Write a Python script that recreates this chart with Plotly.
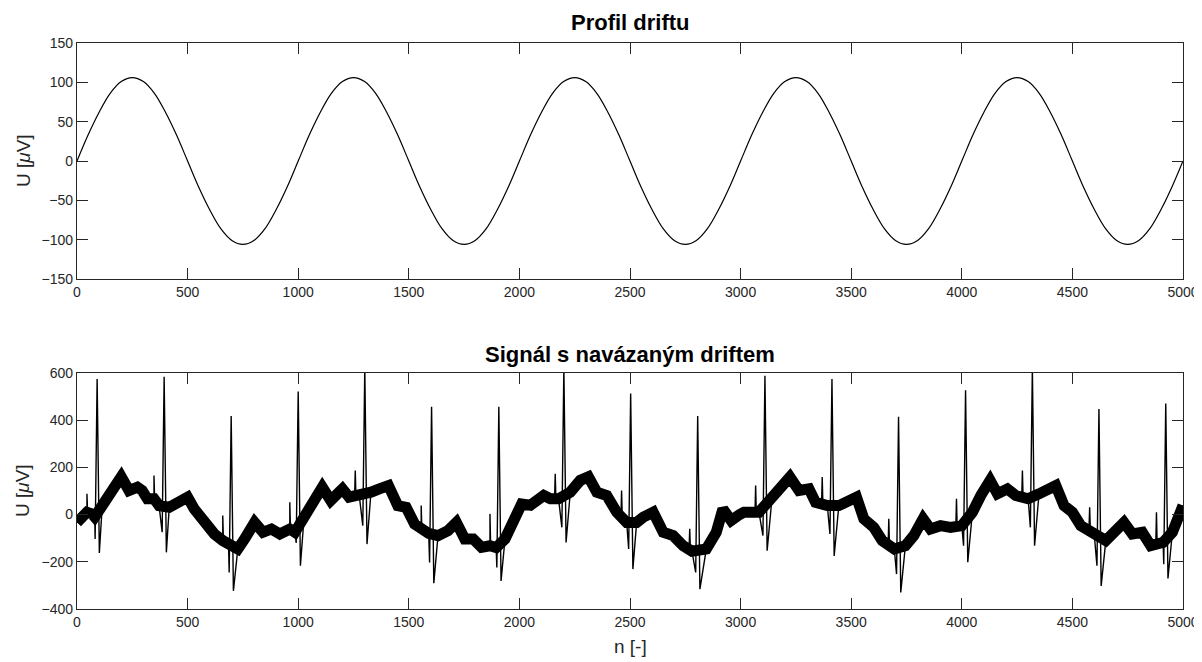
import plotly.graph_objects as go
from plotly.subplots import make_subplots

# ---------------- data ----------------
drift_n = list(range(0, 5001, 50))
drift_u = [0, 33, 62, 86, 101, 106, 101, 86, 62, 33,
           0, -33, -62, -86, -101, -106, -101, -86, -62, -33,
           0, 33, 62, 86, 101, 106, 101, 86, 62, 33,
           0, -33, -62, -86, -101, -106, -101, -86, -62, -33,
           0, 33, 62, 86, 101, 106, 101, 86, 62, 33,
           0, -33, -62, -86, -101, -106, -101, -86, -62, -33,
           0, 33, 62, 86, 101, 106, 101, 86, 62, 33,
           0, -33, -62, -86, -101, -106, -101, -86, -62, -33,
           0, 33, 62, 86, 101, 106, 101, 86, 62, 33,
           0, -33, -62, -86, -101, -106, -101, -86, -62, -33,
           0]

# baseline (wandering, noisy band centre) of the signal
base_n = [0, 23, 45, 68, 80, 114, 152, 200, 235, 273, 295, 318, 348, 371,
          417, 455, 500, 530, 576, 621, 659, 685, 727, 758, 803, 841, 879, 917,
          962, 985, 1026, 1056, 1109, 1147, 1200, 1230, 1276, 1329, 1367, 1408,
          1450, 1488, 1526, 1556, 1590, 1632, 1677, 1715, 1753, 1791, 1829, 1867,
          1895, 1935, 1973, 2010, 2050, 2110, 2140, 2177, 2230, 2275, 2312, 2350,
          2395, 2440, 2485, 2530, 2560, 2605, 2650, 2695, 2740, 2780, 2845, 2890,
          2920, 2957, 2995, 3015, 3083, 3143, 3181, 3223, 3264, 3309, 3339, 3392,
          3444, 3482, 3524, 3557, 3602, 3640, 3695, 3745, 3783, 3825, 3858, 3904,
          3949, 4000, 4048, 4086, 4128, 4161, 4206, 4244, 4300, 4349, 4387, 4425,
          4462, 4500, 4538, 4598, 4651, 4688, 4733, 4771, 4816, 4854, 4910, 4952,
          4982, 5000]
base_u = [-33, -5, 10, 3, -10, 38, 95, 160, 102, 116, 102, 67, 67, 38,
          31, 52, 74, 24, -40, -82, -110, -125, -146, -103, -33, -75, -61, -82,
          -61, -75, -18, 38, 116, 60, 109, 74, 81, 95, 109, 123,
          38, 31, -40, -60, -80, -89, -68, -33, -103, -103, -139, -132,
          -140, -103, -18, 45, 40, 81, 67, 67, 95, 145, 160, 95,
          81, 10, -33, -33, -11, 10, -75, -89, -132, -155, -146, -75,
          24, -25, 0, 10, 10, 81, 123, 159, 102, 109, 52, 38,
          38, 52, 74, -18, -54, -110, -146, -132, -89, -18, -61, -47,
          -54, -47, 10, 81, 145, 88, 109, 81, 67, 88, 102, 123,
          38, 10, -47, -75, -110, -75, -33, -82, -75, -132, -118, -75,
          10, 38]

# QRS complexes: R position, R peak, Q dip, S dip
beat_n = [91, 394, 697, 1000, 1301, 1603, 1907, 2201, 2503, 2806,
          3110, 3413, 3714, 4017, 4319, 4620, 4922]
beat_r = [574, 584, 418, 522, 620, 457, 457, 620, 513, 418,
          588, 574, 414, 527, 620, 447, 471]
beat_q = [-103, -75, -245, -120, -47, -203, -224, -54, -146, -245,
          -89, -82, -252, -132, -54, -217, -210]
beat_s = [-163, -160, -323, -217, -125, -291, -281, -118, -231, -316,
          -153, -175, -330, -202, -132, -302, -271]

# small sharp spikes before each QRS: position, tip, band level there
spike_n = [45, 348, 659, 962, 1258, 1556, 1867, 2162, 2462, 2770,
           3068, 3369, 3670, 3976, 4274, 4578, 4880]
spike_u = [88, 166, -4, 52, 187, 38, 3, 173, 102, -60,
           123, 159, -18, 67, 187, 31, 10]
spike_base = [10, 67, -110, -61, 78, -60, -132, 67, -10, -150,
              10, 45, -130, -50, 75, -60, -125]

x_ticks = list(range(0, 5001, 500))
top_y_ticks = list(range(-150, 151, 50))
bot_y_ticks = list(range(-400, 601, 200))

# ---------------- build the full signal polyline ----------------
pts = list(zip(base_n, base_u))
for n, r, q, s in zip(beat_n, beat_r, beat_q, beat_s):
    pts += [(n - 9, q), (n, r), (n + 10, s)]
for n, u, b in zip(spike_n, spike_u, spike_base):
    pts += [(n - 3, b), (n, u), (n + 3, b)]
pts.sort(key=lambda p: p[0])
sig_n = [p[0] for p in pts]
sig_u = [p[1] for p in pts]

# ---------------- figure ----------------
fig = make_subplots(rows=2, cols=1, vertical_spacing=0.166)

fig.add_trace(go.Scatter(x=drift_n, y=drift_u, mode="lines",
                         line=dict(color="black", width=1.2, shape="spline"),
                         showlegend=False, hoverinfo="skip"), row=1, col=1)

fig.add_trace(go.Scatter(x=base_n, y=base_u, mode="lines",
                         line=dict(color="black", width=11),
                         showlegend=False, hoverinfo="skip"), row=2, col=1)
fig.add_trace(go.Scatter(x=sig_n, y=sig_u, mode="lines",
                         line=dict(color="black", width=1.4),
                         showlegend=False, hoverinfo="skip"), row=2, col=1)

axis_col = "#262626"
font_fam = "Liberation Sans, Arial, sans-serif"
common = dict(showline=True, linecolor=axis_col, linewidth=1.2, mirror="ticks",
              ticks="inside", ticklen=11, tickwidth=1.2, tickcolor=axis_col,
              showgrid=False, zeroline=False, automargin=False,
              tickfont=dict(family=font_fam, size=14, color=axis_col))

fig.update_xaxes(range=[0, 5000], tickvals=x_ticks, **common)
fig.update_yaxes(**common)
fig.update_yaxes(range=[-150, 150], tickvals=top_y_ticks, row=1, col=1)
fig.update_yaxes(range=[-400, 600], tickvals=bot_y_ticks, row=2, col=1)

title_font = dict(family=font_fam, size=22, color="black")
label_font = dict(family=font_fam, size=19, color=axis_col)
fig.update_layout(
    width=1194, height=654,
    margin=dict(l=69, r=19, t=35, b=53),
    paper_bgcolor="white", plot_bgcolor="white",
    annotations=[
        dict(text="<b>Profil driftu</b>", x=0.5, y=1.037, xref="paper", yref="paper",
             showarrow=False, xanchor="center", yanchor="middle", font=title_font),
        dict(text="<b>Signál s navázaným driftem</b>", x=0.5, y=0.449, xref="paper", yref="paper",
             showarrow=False, xanchor="center", yanchor="middle", font=title_font),
        dict(text="U [<i>μ</i>V]", x=-0.0488, y=0.7915, xref="paper", yref="paper",
             showarrow=False, xanchor="center", yanchor="middle", textangle=-90, font=label_font),
        dict(text="U [<i>μ</i>V]", x=-0.0488, y=0.2085, xref="paper", yref="paper",
             showarrow=False, xanchor="center", yanchor="middle", textangle=-90, font=label_font),
        dict(text="n [-]", x=0.5, y=-0.067, xref="paper", yref="paper",
             showarrow=False, xanchor="center", yanchor="middle", font=label_font),
    ],
)
fig.update_layout(yaxis=dict(domain=[0.583, 1.0]), yaxis2=dict(domain=[0.0, 0.417]))

fig.write_html("out.html")
